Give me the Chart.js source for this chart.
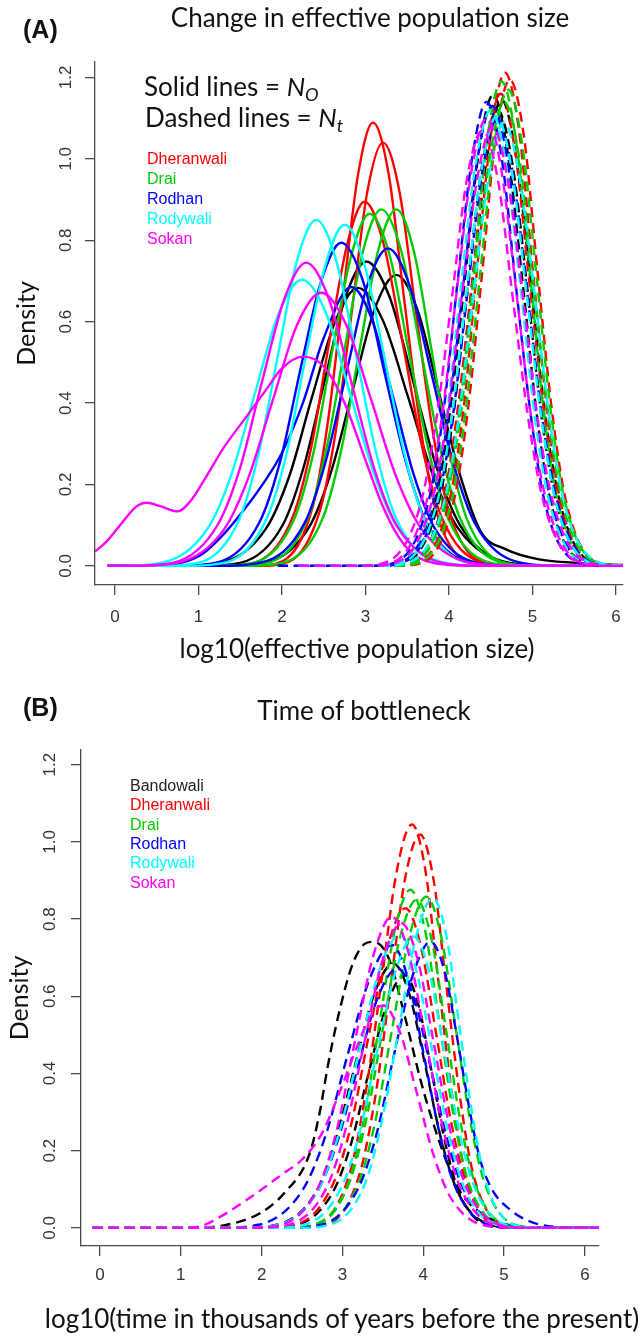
<!DOCTYPE html>
<html>
<head>
<meta charset="utf-8">
<script src="https://cdn.jsdelivr.net/npm/chart.js@4"></script>
<style>
  html, body { margin: 0; padding: 0; background: #fff; }
  #page { position: relative; width: 640px; height: 1337px; overflow: hidden; }
  canvas { position: absolute; left: 0; }
  .txt { position: absolute; white-space: nowrap; line-height: 1; }
  .title { font-family: Lato, sans-serif; font-size: 26px; color: #111; transform: translateX(-50%); }
  .tag { font-family: "Liberation Sans", Arial, sans-serif; font-weight: bold; font-size: 25px; color: #111; }
  .note { font-family: Lato, sans-serif; font-size: 26px; color: #111; }
  .note sub { font-size: 70%; vertical-align: -0.3em; line-height: 0; }
  .pop { font-family: "Liberation Sans", Arial, sans-serif; font-size: 16px; }
</style>
</head>
<body>
<div id="page">
  <canvas id="chartA" width="640" height="680" style="top:0"></canvas>
  <canvas id="chartB" width="640" height="657" style="top:680px"></canvas>
  <div class="txt tag" style="left:23px; top:17px">(A)</div>
  <div class="txt title" style="left:370px; top:4px">Change in effective population size</div>
  <div class="txt note" style="left:144px; top:73px">Solid lines = <i>N</i><sub><i>O</i></sub></div>
  <div class="txt note" style="left:145px; top:104px">Dashed lines = <i>N</i><sub><i>t</i></sub></div>
  <div class="txt title" style="left:357px; top:635px">log10(effective population size)</div>
  <div class="txt tag" style="left:23px; top:695px">(B)</div>
  <div class="txt title" style="left:364px; top:697px">Time of bottleneck</div>
  <div class="txt title" style="left:342px; top:1305px">log10(time in thousands of years before the present)</div>
</div>
<script>
// populations and colours (R default palette)
const POPULATIONS = ["Bandowali", "Dheranwali", "Drai", "Rodhan", "Rodywali", "Sokan"];
const LEGEND_A = ["Dheranwali", "Drai", "Rodhan", "Rodywali", "Sokan"];
const LEGEND_B = POPULATIONS;
const X_TICKS = [0, 1, 2, 3, 4, 5, 6];
const Y_TICKS = [0, 0.2, 0.4, 0.6, 0.8, 1.0, 1.2];

// (A) solid lines: N0 density curves, [x, density]
const NO_BANDOWALI = [
  [[-0.09,0],[1.01,0],[1.51,0.008],[2.01,0.101],[2.26,0.243],[2.51,0.454],[2.76,0.66],[3.01,0.748],[3.29,0.66],[3.57,0.454],[3.85,0.243],[4.13,0.101],[4.69,0.008],[5.25,0],[6.1,0]],
  [[-0.09,0],[1.29,0],[1.81,0.008],[2.33,0.097],[2.59,0.232],[2.85,0.434],[3.11,0.631],[3.37,0.715],[3.62,0.631],[3.87,0.434],[4.12,0.232],[4.38,0.085],[4.69,0.04],[5.08,0.016],[5.48,0.008],[6.1,0.002]],
  [[-0.09,0],[0.71,0],[1.26,0.008],[1.81,0.092],[2.09,0.222],[2.36,0.415],[2.64,0.602],[2.91,0.683],[3.21,0.602],[3.51,0.415],[3.81,0.222],[4.11,0.092],[4.71,0.008],[5.31,0],[6.1,0]],
];
const NO_DHERANWALI = [
  [[-0.09,0],[1.65,0],[2.01,0.012],[2.37,0.147],[2.55,0.354],[2.73,0.661],[2.91,0.96],[3.09,1.089],[3.28,0.96],[3.46,0.661],[3.65,0.354],[3.83,0.147],[4.2,0.012],[4.57,0],[6.1,0]],
  [[-0.09,0],[1.71,0],[2.09,0.011],[2.46,0.14],[2.65,0.338],[2.84,0.631],[3.02,0.917],[3.21,1.04],[3.41,0.917],[3.6,0.631],[3.8,0.338],[3.99,0.14],[4.38,0.011],[4.77,0],[6.1,0]],
  [[-0.09,0],[1.27,0],[1.7,0.01],[2.13,0.121],[2.35,0.291],[2.56,0.543],[2.78,0.789],[2.99,0.895],[3.22,0.789],[3.45,0.543],[3.68,0.291],[3.91,0.121],[4.37,0.01],[4.83,0],[6.1,0]],
];
const NO_DRAI = [
  [[-0.09,0],[1.43,0],[1.87,0.01],[2.31,0.118],[2.53,0.285],[2.75,0.532],[2.97,0.773],[3.19,0.876],[3.43,0.773],[3.66,0.532],[3.9,0.285],[4.13,0.118],[4.6,0.01],[5.07,0],[6.1,0]],
  [[-0.09,0],[1.61,0],[2.05,0.01],[2.49,0.118],[2.71,0.285],[2.93,0.532],[3.15,0.773],[3.37,0.876],[3.58,0.773],[3.79,0.532],[4.0,0.285],[4.21,0.118],[4.63,0.01],[5.05,0],[6.1,0]],
  [[-0.09,0],[1.25,0],[1.7,0.01],[2.15,0.117],[2.38,0.281],[2.6,0.525],[2.83,0.763],[3.05,0.865],[3.29,0.763],[3.52,0.525],[3.76,0.281],[3.99,0.117],[4.46,0.01],[4.93,0],[6.1,0]],
];
const NO_RODHAN = [
  [[-0.09,0],[0.75,0],[1.24,0.009],[1.73,0.107],[1.98,0.258],[2.22,0.482],[2.47,0.7],[2.71,0.794],[2.97,0.7],[3.22,0.482],[3.48,0.258],[3.73,0.107],[4.24,0.009],[4.75,0],[6.1,0]],
  [[-0.09,0],[1.27,0],[1.77,0.009],[2.27,0.105],[2.52,0.254],[2.77,0.473],[3.02,0.688],[3.27,0.78],[3.53,0.688],[3.79,0.473],[4.05,0.254],[4.31,0.105],[4.83,0.009],[5.35,0],[6.1,0]],
  [[-0.09,0],[0.4,0],[0.8,0.008],[1.05,0.03],[1.28,0.073],[1.55,0.139],[1.8,0.21],[2.0,0.278],[2.25,0.4],[2.5,0.56],[2.83,0.685],[3.08,0.604],[3.33,0.416],[3.58,0.223],[3.83,0.092],[4.33,0.008],[4.83,0],[6.1,0]],
];
const NO_RODYWALI = [
  [[-0.09,0],[0.57,0],[1.03,0.009],[1.49,0.115],[1.72,0.276],[1.95,0.516],[2.18,0.75],[2.41,0.85],[2.65,0.75],[2.89,0.516],[3.13,0.276],[3.37,0.115],[3.85,0.009],[4.33,0],[6.1,0]],
  [[-0.09,0],[0.87,0],[1.34,0.009],[1.81,0.113],[2.05,0.272],[2.28,0.509],[2.52,0.739],[2.75,0.838],[2.99,0.739],[3.23,0.509],[3.47,0.272],[3.71,0.113],[4.19,0.009],[4.67,0],[6.1,0]],
  [[-0.09,0],[0.0,0],[0.56,0.008],[1.12,0.095],[1.4,0.228],[1.68,0.427],[1.96,0.62],[2.24,0.703],[2.53,0.62],[2.81,0.427],[3.1,0.228],[3.38,0.095],[3.95,0.008],[4.52,0],[6.1,0]],
];
const NO_SOKAN = [
  [[-0.09,0],[0.17,0],[0.7,0.008],[1.23,0.101],[1.5,0.242],[1.76,0.452],[2.03,0.657],[2.29,0.745],[2.56,0.657],[2.83,0.452],[3.1,0.242],[3.37,0.101],[3.91,0.008],[4.45,0],[6.1,0]],
  [[-0.24,0.035],[-0.1,0.06],[0.1,0.11],[0.25,0.145],[0.38,0.155],[0.55,0.146],[0.75,0.134],[0.9,0.158],[1.1,0.222],[1.3,0.29],[1.55,0.36],[1.8,0.43],[2.0,0.485],[2.25,0.514],[2.5,0.49],[2.75,0.4],[3.0,0.26],[3.2,0.15],[3.4,0.07],[3.6,0.025],[3.8,0.008],[4.0,0.002],[4.3,0],[6.1,0]],
  [[-0.09,0],[0.15,0],[0.73,0.007],[1.31,0.091],[1.6,0.218],[1.89,0.407],[2.18,0.592],[2.47,0.671],[2.77,0.592],[3.07,0.407],[3.37,0.218],[3.67,0.091],[4.27,0.007],[4.87,0],[6.1,0]],
];

// (A) dashed lines: Nt density curves
const NT_BANDOWALI = [
  [[2.2,0],[3.15,0],[3.5,0.013],[3.84,0.156],[4.01,0.376],[4.19,0.702],[4.36,1.02],[4.53,1.157],[4.7,1.02],[4.88,0.702],[5.05,0.376],[5.22,0.156],[5.57,0.013],[5.91,0],[6.1,0]],
  [[2.2,0],[3.24,0],[3.59,0.013],[3.93,0.155],[4.11,0.372],[4.28,0.695],[4.46,1.01],[4.63,1.145],[4.8,1.01],[4.98,0.695],[5.15,0.372],[5.33,0.155],[5.67,0.013],[6.02,0],[6.1,0]],
  [[2.2,0],[3.16,0],[3.51,0.012],[3.87,0.151],[4.05,0.364],[4.22,0.68],[4.4,0.988],[4.58,1.12],[4.76,0.988],[4.94,0.68],[5.11,0.364],[5.29,0.151],[5.65,0.012],[6.0,0],[6.1,0]],
];
const NT_DHERANWALI = [
  [[2.2,0],[3.35,0],[3.68,0.013],[4.01,0.164],[4.18,0.394],[4.34,0.736],[4.51,1.069],[4.67,1.212],[4.84,1.069],[5.0,0.736],[5.17,0.394],[5.33,0.164],[5.66,0.013],[5.99,0],[6.1,0]],
  [[2.2,0],[3.39,0],[3.73,0.013],[4.06,0.161],[4.23,0.388],[4.4,0.725],[4.56,1.053],[4.73,1.194],[4.9,1.053],[5.06,0.725],[5.23,0.388],[5.4,0.161],[5.73,0.013],[6.1,0]],
  [[2.2,0],[3.24,0],[3.59,0.013],[3.93,0.157],[4.1,0.377],[4.28,0.704],[4.45,1.023],[4.62,1.16],[4.79,1.023],[4.96,0.704],[5.14,0.377],[5.31,0.157],[5.65,0.013],[6.0,0],[6.1,0]],
];
const NT_DRAI = [
  [[2.2,0],[3.29,0],[3.63,0.013],[3.96,0.161],[4.13,0.387],[4.3,0.722],[4.46,1.05],[4.63,1.19],[4.8,1.05],[4.97,0.722],[5.13,0.387],[5.3,0.161],[5.64,0.013],[5.97,0],[6.1,0]],
  [[2.2,0],[3.35,0],[3.69,0.013],[4.03,0.158],[4.2,0.38],[4.37,0.71],[4.54,1.032],[4.71,1.17],[4.88,1.032],[5.05,0.71],[5.22,0.38],[5.39,0.158],[5.73,0.013],[6.1,0]],
  [[2.2,0],[3.26,0],[3.61,0.013],[3.96,0.154],[4.14,0.371],[4.31,0.692],[4.49,1.005],[4.66,1.14],[4.84,1.005],[5.01,0.692],[5.19,0.371],[5.36,0.154],[5.71,0.013],[6.1,0]],
];
const NT_RODHAN = [
  [[1.95,0],[3.05,0],[3.4,0.013],[3.75,0.154],[3.93,0.371],[4.1,0.692],[4.28,1.005],[4.45,1.14],[4.63,1.005],[4.8,0.692],[4.98,0.371],[5.15,0.154],[5.5,0.013],[5.85,0],[6.1,0]],
  [[1.95,0],[3.11,0],[3.46,0.012],[3.81,0.153],[3.99,0.367],[4.17,0.686],[4.34,0.997],[4.52,1.13],[4.7,0.997],[4.87,0.686],[5.05,0.367],[5.23,0.153],[5.58,0.012],[5.93,0],[6.1,0]],
  [[1.95,0],[3.13,0],[3.49,0.012],[3.85,0.149],[4.04,0.358],[4.22,0.668],[4.4,0.97],[4.58,1.1],[4.76,0.97],[4.94,0.668],[5.12,0.358],[5.31,0.149],[5.67,0.012],[6.03,0],[6.1,0]],
];
const NT_RODYWALI = [
  [[2.2,0],[3.13,0],[3.49,0.012],[3.85,0.149],[4.03,0.359],[4.21,0.67],[4.39,0.974],[4.57,1.104],[4.75,0.974],[4.93,0.67],[5.11,0.359],[5.29,0.149],[5.65,0.012],[6.01,0],[6.1,0]],
  [[2.2,0],[3.2,0],[3.56,0.012],[3.93,0.147],[4.11,0.354],[4.29,0.662],[4.48,0.961],[4.66,1.09],[4.84,0.961],[5.03,0.662],[5.21,0.354],[5.39,0.147],[5.76,0.012],[6.1,0]],
  [[2.2,0],[3.08,0],[3.43,0.012],[3.79,0.151],[3.97,0.364],[4.14,0.68],[4.32,0.988],[4.5,1.12],[4.68,0.988],[4.86,0.68],[5.03,0.364],[5.21,0.151],[5.57,0.012],[5.92,0],[6.1,0]],
];
const NT_SOKAN = [
  [[2.2,0],[3.0,0],[3.36,0.012],[3.72,0.149],[3.91,0.358],[4.09,0.668],[4.27,0.97],[4.45,1.1],[4.63,0.97],[4.81,0.668],[4.99,0.358],[5.18,0.149],[5.54,0.012],[5.9,0],[6.1,0]],
  [[2.2,0],[3.04,0],[3.41,0.012],[3.78,0.146],[3.97,0.351],[4.15,0.656],[4.34,0.953],[4.52,1.08],[4.7,0.953],[4.89,0.656],[5.07,0.351],[5.26,0.146],[5.63,0.012],[6.0,0],[6.1,0]],
  [[2.2,0],[2.91,0],[3.28,0.012],[3.65,0.144],[3.84,0.348],[4.03,0.649],[4.21,0.944],[4.4,1.07],[4.59,0.944],[4.77,0.649],[4.96,0.348],[5.15,0.144],[5.52,0.012],[5.89,0],[6.1,0]],
];

// (B) time of bottleneck density curves (dashed)
const TB_BANDOWALI = [
  [[-0.09,0],[1.17,0],[1.57,0.008],[1.98,0.038],[2.28,0.09],[2.59,0.19],[2.72,0.3],[2.82,0.42],[2.95,0.55],[3.12,0.68],[3.27,0.735],[3.38,0.741],[3.57,0.7],[3.77,0.55],[3.97,0.38],[4.11,0.28],[4.31,0.16],[4.47,0.09],[4.67,0.045],[4.97,0.012],[5.27,0.002],[5.57,0],[6.2,0]],
  [[-0.09,0],[1.71,0],[2.19,0.008],[2.67,0.092],[2.91,0.223],[3.15,0.416],[3.39,0.604],[3.63,0.685],[3.83,0.604],[4.03,0.416],[4.23,0.223],[4.43,0.092],[4.83,0.008],[5.23,0],[6.2,0]],
  [[-0.09,0],[1.97,0],[2.42,0.007],[2.87,0.088],[3.1,0.213],[3.32,0.398],[3.55,0.578],[3.77,0.655],[3.94,0.578],[4.11,0.398],[4.28,0.213],[4.45,0.088],[4.79,0.007],[5.13,0],[6.2,0]],
];
const TB_DHERANWALI = [
  [[-0.09,0],[2.32,0],[2.71,0.011],[3.09,0.141],[3.28,0.34],[3.48,0.634],[3.67,0.922],[3.86,1.045],[4.03,0.922],[4.19,0.634],[4.36,0.34],[4.52,0.141],[4.85,0.011],[5.18,0],[6.2,0]],
  [[-0.09,0],[2.46,0],[2.84,0.011],[3.21,0.138],[3.4,0.331],[3.59,0.619],[3.77,0.899],[3.96,1.019],[4.13,0.899],[4.29,0.619],[4.46,0.331],[4.62,0.138],[4.95,0.011],[5.28,0],[6.2,0]],
  [[-0.09,0],[1.98,0],[2.43,0.009],[2.88,0.112],[3.11,0.269],[3.33,0.503],[3.56,0.73],[3.78,0.828],[3.97,0.73],[4.16,0.503],[4.35,0.269],[4.54,0.112],[4.92,0.009],[5.3,0],[6.2,0]],
];
const TB_DRAI = [
  [[-0.09,0],[2.32,0],[2.7,0.01],[3.08,0.118],[3.27,0.285],[3.46,0.532],[3.65,0.773],[3.84,0.876],[4.02,0.773],[4.2,0.532],[4.38,0.285],[4.56,0.118],[4.92,0.01],[5.28,0],[6.2,0]],
  [[-0.09,0],[2.36,0],[2.78,0.009],[3.2,0.116],[3.41,0.279],[3.62,0.521],[3.83,0.757],[4.04,0.858],[4.22,0.757],[4.4,0.521],[4.58,0.279],[4.76,0.116],[5.12,0.009],[5.48,0],[6.2,0]],
  [[-0.09,0],[2.24,0],[2.66,0.009],[3.08,0.115],[3.29,0.276],[3.5,0.516],[3.71,0.75],[3.92,0.85],[4.1,0.75],[4.28,0.516],[4.46,0.276],[4.64,0.115],[5.0,0.009],[5.36,0],[6.2,0]],
];
const TB_RODHAN = [
  [[-0.09,0],[1.41,0],[1.96,0.008],[2.51,0.099],[2.79,0.238],[3.06,0.445],[3.34,0.647],[3.61,0.733],[3.81,0.647],[4.01,0.445],[4.21,0.238],[4.41,0.099],[4.81,0.008],[5.21,0],[6.2,0]],
  [[-0.09,0],[2.29,0],[2.74,0.008],[3.19,0.1],[3.42,0.241],[3.64,0.45],[3.87,0.654],[4.09,0.741],[4.27,0.66],[4.43,0.48],[4.57,0.31],[4.7,0.18],[4.85,0.1],[5.08,0.046],[5.28,0.02],[5.48,0.007],[5.8,0.001],[6.2,0]],
  [[-0.09,0],[1.68,0],[2.18,0.007],[2.68,0.091],[2.93,0.218],[3.18,0.408],[3.43,0.593],[3.68,0.672],[3.89,0.593],[4.1,0.408],[4.31,0.218],[4.52,0.091],[4.94,0.007],[5.36,0],[6.2,0]],
];
const TB_RODYWALI = [
  [[-0.09,0],[2.44,0],[2.86,0.009],[3.28,0.115],[3.49,0.278],[3.7,0.518],[3.91,0.753],[4.12,0.854],[4.29,0.753],[4.45,0.518],[4.62,0.278],[4.78,0.115],[5.11,0.009],[5.44,0],[6.2,0]],
  [[-0.09,0],[1.71,0],[2.21,0.008],[2.71,0.102],[2.96,0.247],[3.21,0.461],[3.46,0.669],[3.71,0.759],[3.91,0.669],[4.11,0.461],[4.31,0.247],[4.51,0.102],[4.91,0.008],[5.31,0],[6.2,0]],
  [[-0.09,0],[2.08,0],[2.53,0.008],[2.98,0.102],[3.21,0.245],[3.43,0.458],[3.66,0.666],[3.88,0.755],[4.07,0.666],[4.26,0.458],[4.45,0.245],[4.64,0.102],[5.02,0.008],[5.4,0],[6.2,0]],
];
const TB_SOKAN = [
  [[-0.09,0],[1.81,0],[2.26,0.009],[2.71,0.109],[2.94,0.262],[3.16,0.489],[3.39,0.711],[3.61,0.806],[3.82,0.711],[4.03,0.489],[4.24,0.262],[4.45,0.109],[4.87,0.009],[5.29,0],[6.2,0]],
  [[-0.09,0],[1.89,0],[2.35,0.009],[2.81,0.107],[3.04,0.256],[3.27,0.479],[3.5,0.696],[3.73,0.789],[3.93,0.696],[4.13,0.479],[4.33,0.256],[4.53,0.107],[4.93,0.009],[5.33,0],[6.2,0]],
  [[-0.09,0],[1.0,0],[1.24,0.004],[1.49,0.029],[1.74,0.062],[1.99,0.098],[2.25,0.138],[2.5,0.177],[2.75,0.246],[3.0,0.37],[3.2,0.48],[3.35,0.55],[3.5,0.576],[3.71,0.508],[3.92,0.35],[4.13,0.187],[4.34,0.078],[4.76,0.006],[5.2,0],[6.2,0]],
];

const COLORS = {
  Bandowali: "#000000",
  Dheranwali: "#ff0000",
  Drai: "#00cd00",
  Rodhan: "#0000ff",
  Rodywali: "#00ffff",
  Sokan: "#ff00ff",
};
const LEGEND_TEXT = { ...COLORS, Bandowali: "#222222" };
const AXIS_COLOR = "#4a4a4a";
const TICK_FONT = { family: "'Liberation Sans', Arial, sans-serif", size: 17 };
const YLABEL_FONT = { family: "Lato, sans-serif", size: 25 };
const DASH = [10, 6];

const toSets = (groups, dashed) =>
  groups.flatMap(([pop, curves]) =>
    curves.map((pts) => ({
      data: pts,
      borderColor: COLORS[pop],
      borderDash: dashed ? DASH : [],
    })),
  );

// rotated y tick labels, like R's default las=0
const yTickLabels = {
  id: "yTickLabels",
  afterDraw(chart, args, opts) {
    const { ctx } = chart;
    const scale = chart.scales.y;
    ctx.save();
    ctx.font = `${TICK_FONT.size}px ${TICK_FONT.family}`;
    ctx.fillStyle = "#333";
    ctx.textAlign = "center";
    ctx.textBaseline = "middle";
    scale.ticks.forEach((t) => {
      ctx.save();
      ctx.translate(opts.x, scale.getPixelForValue(t.value));
      ctx.rotate(-Math.PI / 2);
      ctx.fillText(t.value.toFixed(1), 0, 0);
      ctx.restore();
    });
    ctx.restore();
  },
};

const makePanel = (id, p) => {
  const datasets = p.sets.map((s, i, arr) => ({ ...s, order: arr.length - i }));
  return new Chart(document.getElementById(id), {
    type: "line",
    data: { datasets },
    options: {
      responsive: false,
      animation: false,
      devicePixelRatio: 1,
      layout: { padding: { left: 0, top: p.top, right: p.right, bottom: 0 } },
      elements: {
        point: { radius: 0 },
        line: { borderWidth: 2.4, cubicInterpolationMode: "monotone", fill: false },
      },
      plugins: {
        legend: { display: false },
        tooltip: { enabled: false },
        yTickLabels: { x: p.yLabelX },
      },
      scales: {
        x: {
          type: "linear",
          min: p.xMin,
          max: p.xMax,
          afterBuildTicks: (axis) => { axis.ticks = X_TICKS.map((v) => ({ value: v })); },
          afterFit: (axis) => { axis.height = p.xHeight; },
          ticks: { font: TICK_FONT, color: "#333", padding: p.xTickPad, maxRotation: 0 },
          grid: { drawOnChartArea: false, tickLength: 10, color: AXIS_COLOR, lineWidth: 1.3 },
          border: { color: AXIS_COLOR, width: 1.3 },
        },
        y: {
          type: "linear",
          min: -0.047,
          max: 1.238,
          afterBuildTicks: (axis) => { axis.ticks = Y_TICKS.map((v) => ({ value: v })); },
          afterFit: (axis) => { axis.width = p.yWidth; },
          ticks: { display: false },
          grid: { drawOnChartArea: false, tickLength: 10, color: AXIS_COLOR, lineWidth: 1.3 },
          border: { color: AXIS_COLOR, width: 1.3 },
          title: { display: true, text: "Density", font: YLABEL_FONT, color: "#111", padding: { top: p.yTitlePad } },
        },
      },
    },
    plugins: [yTickLabels],
  });
};

const addLegend = (names, left, firstBaseline, step) => {
  const page = document.getElementById("page");
  names.forEach((name, i) => {
    const el = document.createElement("div");
    el.className = "txt pop";
    el.textContent = name;
    el.style.left = left + "px";
    el.style.top = firstBaseline + i * step - 13.5 + "px";
    el.style.color = LEGEND_TEXT[name];
    page.appendChild(el);
  });
};

const draw = () => {
  makePanel("chartA", {
    sets: [
      ...toSets([["Bandowali", NO_BANDOWALI], ["Dheranwali", NO_DHERANWALI], ["Drai", NO_DRAI],
        ["Rodhan", NO_RODHAN], ["Rodywali", NO_RODYWALI], ["Sokan", NO_SOKAN]], false),
      ...toSets([["Bandowali", NT_BANDOWALI], ["Dheranwali", NT_DHERANWALI], ["Drai", NT_DRAI],
        ["Rodhan", NT_RODHAN], ["Rodywali", NT_RODYWALI], ["Sokan", NT_SOKAN]], true),
    ],
    top: 62, right: 17, yWidth: 95, xHeight: 95,
    xMin: -0.24, xMax: 6.085,
    xTickPad: 12, yTitlePad: 12, yLabelX: 66,
  });
  makePanel("chartB", {
    sets: toSets([["Bandowali", TB_BANDOWALI], ["Dheranwali", TB_DHERANWALI], ["Drai", TB_DRAI],
      ["Rodhan", TB_RODHAN], ["Rodywali", TB_RODYWALI], ["Sokan", TB_SOKAN]], true),
    top: 70, right: 41, yWidth: 81, xHeight: 91,
    xMin: -0.235, xMax: 6.175,
    xTickPad: 9, yTitlePad: 5, yLabelX: 50,
  });
  addLegend(LEGEND_A, 147, 164.5, 20);
  addLegend(LEGEND_B, 130, 791.5, 19.3);
};

document.fonts.ready.then(draw);
</script>
</body>
</html>
